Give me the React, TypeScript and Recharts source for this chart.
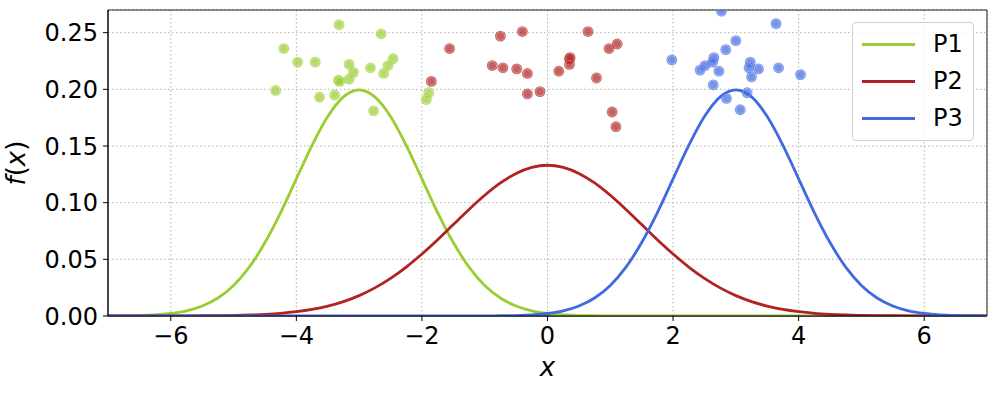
import React from 'react';
import {
  ComposedChart,
  Line,
  Scatter,
  XAxis,
  YAxis,
  CartesianGrid,
  ReferenceArea,
  Label,
} from 'recharts';

const xGrid = [
  -7, -6.75, -6.5, -6.25, -6, -5.75, -5.5, -5.25, -5, -4.75, -4.5, -4.25, -4, -3.75, -3.5, -3.25,
  -3, -2.75, -2.5, -2.25, -2, -1.75, -1.5, -1.25, -1, -0.75, -0.5, -0.25, 0, 0.25, 0.5, 0.75,
  1, 1.25, 1.5, 1.75, 2, 2.25, 2.5, 2.75, 3, 3.25, 3.5, 3.75, 4, 4.25, 4.5, 4.75,
  5, 5.25, 5.5, 5.75, 6, 6.25, 6.5, 6.75, 7,
];

const p1Values = [
  0.0001, 0.0002, 0.0004, 0.001, 0.0022, 0.0045, 0.0088, 0.0159, 0.027, 0.0431, 0.0648, 0.0913, 0.121, 0.1506, 0.176, 0.1933,
  0.1995, 0.1933, 0.176, 0.1506, 0.121, 0.0913, 0.0648, 0.0431, 0.027, 0.0159, 0.0088, 0.0045, 0.0022, 0.001, 0.0004, 0.0002,
  0.0001, 0, 0, 0, 0, 0, 0, 0, 0, 0, 0, 0, 0, 0, 0, 0,
  0, 0, 0, 0, 0, 0, 0, 0, 0,
];

const p2Values = [
  0, 0, 0, 0, 0, 0.0001, 0.0002, 0.0003, 0.0005, 0.0009, 0.0015, 0.0024, 0.0038, 0.0058, 0.0087, 0.0127,
  0.018, 0.0248, 0.0332, 0.0432, 0.0547, 0.0673, 0.0807, 0.094, 0.1065, 0.1174, 0.1258, 0.1311, 0.133, 0.1311, 0.1258, 0.1174,
  0.1065, 0.094, 0.0807, 0.0673, 0.0547, 0.0432, 0.0332, 0.0248, 0.018, 0.0127, 0.0087, 0.0058, 0.0038, 0.0024, 0.0015, 0.0009,
  0.0005, 0.0003, 0.0002, 0.0001, 0, 0, 0, 0, 0,
];

const p3Values = [
  0, 0, 0, 0, 0, 0, 0, 0, 0, 0, 0, 0, 0, 0, 0, 0,
  0, 0, 0, 0, 0, 0, 0, 0, 0.0001, 0.0002, 0.0004, 0.001, 0.0022, 0.0045, 0.0088, 0.0159,
  0.027, 0.0431, 0.0648, 0.0913, 0.121, 0.1506, 0.176, 0.1933, 0.1995, 0.1933, 0.176, 0.1506, 0.121, 0.0913, 0.0648, 0.0431,
  0.027, 0.0159, 0.0088, 0.0045, 0.0022, 0.001, 0.0004, 0.0002, 0.0001,
];

// samples drawn from each component
const p1Samples = [
  [-3.32, 0.257], [-2.65, 0.249], [-4.2, 0.236], [-3.98, 0.224], [-3.7, 0.224], [-3.16, 0.222],
  [-3.09, 0.215], [-2.82, 0.219], [-2.54, 0.221], [-2.46, 0.227], [-2.61, 0.214], [-3.33, 0.208],
  [-3.31, 0.207], [-3.16, 0.209], [-4.33, 0.199], [-3.63, 0.193], [-3.39, 0.195], [-2.77, 0.181],
  [-1.89, 0.197], [-1.93, 0.191],
];

const p2Samples = [
  [-1.56, 0.236], [-1.85, 0.207], [-0.75, 0.247], [-0.4, 0.251], [0.645, 0.251], [0.98, 0.236],
  [1.11, 0.24], [-0.88, 0.221], [-0.71, 0.219], [-0.49, 0.218], [-0.32, 0.214], [0.35, 0.227],
  [0.36, 0.228], [0.35, 0.222], [0.18, 0.216], [0.78, 0.21], [-0.32, 0.196], [-0.12, 0.198],
  [1.03, 0.18], [1.09, 0.167],
];

const p3Samples = [
  [2.77, 0.269], [3.64, 0.258], [3.0, 0.243], [2.84, 0.235], [1.98, 0.226], [2.65, 0.228],
  [2.63, 0.224], [2.51, 0.221], [2.43, 0.217], [2.73, 0.216], [3.23, 0.224], [3.21, 0.219],
  [3.36, 0.218], [3.25, 0.211], [3.68, 0.219], [4.03, 0.213], [2.64, 0.204], [2.85, 0.192],
  [3.18, 0.197], [3.07, 0.182],
];

const xTicks = [-6, -4, -2, 0, 2, 4, 6];
const yTicks = [0, 0.05, 0.1, 0.15, 0.2, 0.25];

const GREEN = '#9acd32';
const RED = '#b22222';
const BLUE = '#4169e1';
const FONT = 'DejaVu Sans';

const curveData = xGrid.map((x, i) => ({ x, p1: p1Values[i], p2: p2Values[i], p3: p3Values[i] }));
const toPoints = (arr: number[][]) => arr.map(([x, y]) => ({ x, y }));

const dot = (color: string) => (props: any) => (
  <g>
    <circle cx={props.cx} cy={props.cy} r={5.4} fill={color} fillOpacity={0.72} />
    <circle
      cx={props.cx}
      cy={props.cy}
      r={4.2}
      fill="none"
      stroke="#fff"
      strokeOpacity={0.35}
      strokeWidth={0.9}
    />
  </g>
);

const fmtX = (v: number) => (v < 0 ? `\u2212${-v}` : `${v}`);

const legendItems = [
  { name: 'P1', color: GREEN },
  { name: 'P2', color: RED },
  { name: 'P3', color: BLUE },
];

export default function App() {
  return (
    <div style={{ position: 'absolute', left: 0, top: 0, width: 997, height: 393, background: '#fff' }}>
      <ComposedChart
        width={997}
        height={393}
        data={curveData}
        margin={{ top: 10, right: 10, bottom: 0, left: 0 }}
      >
        <CartesianGrid stroke="#b0b0b0" strokeDasharray="1.5 2.5" />
        <XAxis
          dataKey="x"
          type="number"
          domain={[-7, 7]}
          ticks={xTicks}
          tickFormatter={fmtX}
          height={77}
          tickSize={5}
          tickMargin={6}
          stroke="#000"
          tick={{ fill: '#000', fontSize: 24, fontFamily: FONT }}
          allowDataOverflow
        >
          <Label
            content={(p: any) => (
              <text
                x={p.viewBox.x + p.viewBox.width / 2}
                y={376}
                textAnchor="middle"
                fontSize={26}
                fontFamily={FONT}
                fontStyle="italic"
                fill="#000"
              >
                x
              </text>
            )}
          />
        </XAxis>
        <YAxis
          type="number"
          domain={[0, 0.27]}
          ticks={yTicks}
          tickFormatter={(v: number) => v.toFixed(2)}
          width={108}
          tickSize={5}
          tickMargin={5}
          stroke="#000"
          tick={{ fill: '#000', fontSize: 24, fontFamily: FONT }}
          allowDataOverflow
        >
          <Label
            content={(p: any) => {
              const cy = p.viewBox.y + p.viewBox.height / 2;
              return (
                <text
                  x={25}
                  y={cy}
                  transform={`rotate(-90 25 ${cy})`}
                  textAnchor="middle"
                  fontSize={26}
                  fontFamily={FONT}
                  fill="#000"
                >
                  <tspan fontStyle="italic">f</tspan>
                  <tspan>(</tspan>
                  <tspan fontStyle="italic">x</tspan>
                  <tspan>)</tspan>
                </text>
              );
            }}
          />
        </YAxis>
        <ReferenceArea x1={-7} x2={7} y1={0} y2={0.27} fill="none" stroke="#222" strokeWidth={1} />
        <Scatter data={toPoints(p1Samples)} dataKey="y" shape={dot(GREEN)} isAnimationActive={false} />
        <Scatter data={toPoints(p2Samples)} dataKey="y" shape={dot(RED)} isAnimationActive={false} />
        <Scatter data={toPoints(p3Samples)} dataKey="y" shape={dot(BLUE)} isAnimationActive={false} />
        <Line type="monotone" dataKey="p1" stroke={GREEN} strokeWidth={2.8} dot={false} isAnimationActive={false} />
        <Line type="monotone" dataKey="p2" stroke={RED} strokeWidth={2.8} dot={false} isAnimationActive={false} />
        <Line type="monotone" dataKey="p3" stroke={BLUE} strokeWidth={2.8} dot={false} isAnimationActive={false} />
      </ComposedChart>
      <div
        style={{
          position: 'absolute',
          left: 852,
          top: 22,
          width: 120,
          height: 117,
          border: '1px solid #d0d0d0',
          borderRadius: 4,
          background: 'rgba(255,255,255,0.8)',
          fontFamily: FONT,
          fontSize: 24,
          color: '#000',
        }}
      >
        {legendItems.map((it, i) => (
          <div
            key={it.name}
            style={{ position: 'absolute', left: 0, top: 6 + i * 37, height: 30, display: 'flex', alignItems: 'center' }}
          >
            <div style={{ marginLeft: 9, width: 53, height: 3, background: it.color }} />
            <span style={{ marginLeft: 18 }}>{it.name}</span>
          </div>
        ))}
      </div>
    </div>
  );
}
